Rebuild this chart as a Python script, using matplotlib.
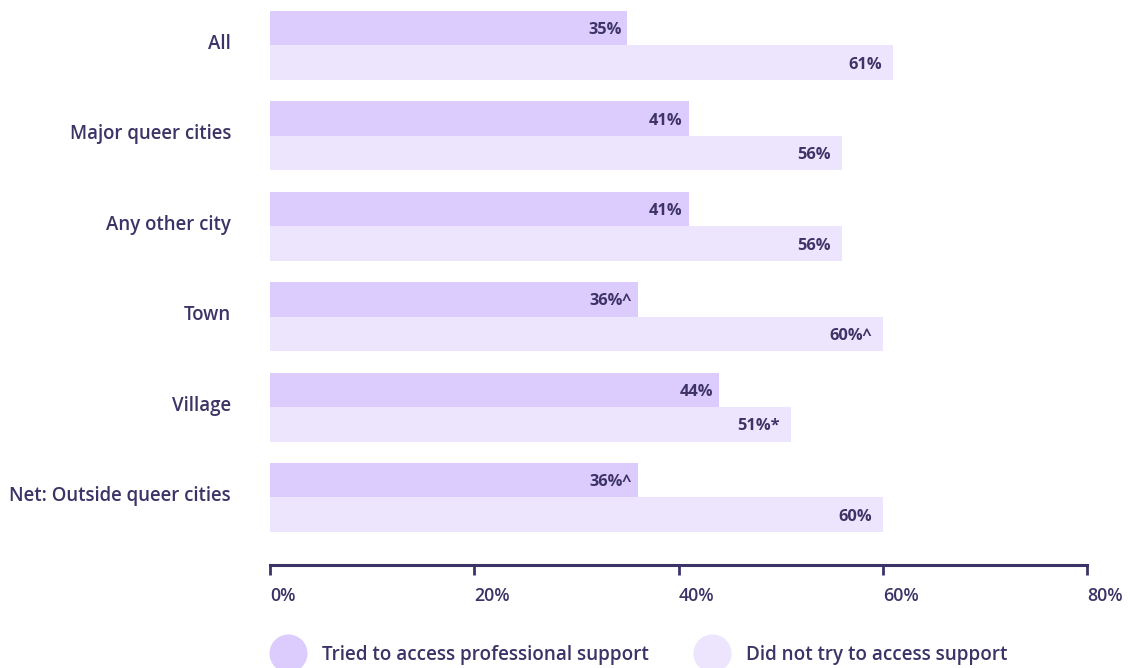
import matplotlib
matplotlib.use("Agg")
import matplotlib.pyplot as plt
from matplotlib.lines import Line2D
from matplotlib.transforms import ScaledTranslation
import numpy as np

categories = ["All", "Major queer cities", "Any other city", "Town", "Village",
              "Net: Outside queer cities"]
tried = [35, 41, 41, 36, 44, 36]
not_tried = [61, 56, 56, 60, 51, 60]
tried_labels = ["35%", "41%", "41%", "36%^", "44%", "36%^"]
not_tried_labels = ["61%", "56%", "56%", "60%^", "51%*", "60%"]
series_names = ["Tried to access professional support", "Did not try to access support"]
xticks = [0, 20, 40, 60, 80]
xtick_labels = ["0%", "20%", "40%", "60%", "80%"]

C_TRIED = "#dccbfd"
C_NOT = "#ede4fd"
C_TEXT = "#3d3366"

plt.rcParams['font.family'] = ['Open Sans', 'DejaVu Sans']

W, H = 1130, 668
fig = plt.figure(figsize=(W / 100, H / 100), dpi=100)
ax = fig.add_axes([270 / W, (H - 565) / H, (1087 - 270) / W, 565 / H])

y = np.arange(len(categories))
bh = 0.382
ax.barh(y - bh / 2, tried, height=bh, color=C_TRIED, label=series_names[0])
ax.barh(y + bh / 2, not_tried, height=bh, color=C_NOT, label=series_names[1])

for yi, v, lab in zip(y, tried, tried_labels):
    ax.annotate(lab, (v, yi - bh / 2), xytext=(-6, -2), textcoords="offset pixels",
                ha="right", va="center", fontsize=11.8, fontweight="bold", color=C_TEXT)
for yi, v, lab in zip(y, not_tried, not_tried_labels):
    ax.annotate(lab, (v, yi + bh / 2), xytext=(-11, -2), textcoords="offset pixels",
                ha="right", va="center", fontsize=11.8, fontweight="bold", color=C_TEXT)

ax.set_xlim(0, 80)
ax.set_ylim(5.747, -0.503)
ax.set_yticks(y)
ax.set_yticklabels(categories, fontsize=13.4, fontweight="semibold", color=C_TEXT)
ax.tick_params(axis="y", length=0, pad=28)
up = ScaledTranslation(0, 4 / 100, fig.dpi_scale_trans)
for lbl in ax.get_yticklabels():
    lbl.set_transform(lbl.get_transform() + up)
ax.set_xticks(xticks)
ax.set_xticklabels(xtick_labels, fontsize=12.8, fontweight="semibold", color=C_TEXT)
for lbl in ax.get_xticklabels():
    lbl.set_horizontalalignment("left")
ax.tick_params(axis="x", length=7.5, width=2, color=C_TEXT, direction="out", pad=8)

for s in ["top", "right", "left"]:
    ax.spines[s].set_visible(False)
ax.spines["bottom"].set_color(C_TEXT)
ax.spines["bottom"].set_linewidth(2.2)

handles = [Line2D([], [], linestyle="none", marker="o", markersize=27.4,
                  markerfacecolor=c, markeredgecolor="none") for c in (C_TRIED, C_NOT)]
leg = fig.legend(handles, series_names, loc="center left",
                 bbox_to_anchor=(270 / W, (H - 655) / H), ncol=2, frameon=False,
                 fontsize=13.6, handlelength=1.95, handletextpad=0.8, columnspacing=2.4,
                 borderaxespad=0, borderpad=0)
for t in leg.get_texts():
    t.set_color(C_TEXT)
    t.set_fontweight("semibold")

fig.savefig("out.png", dpi=100)
